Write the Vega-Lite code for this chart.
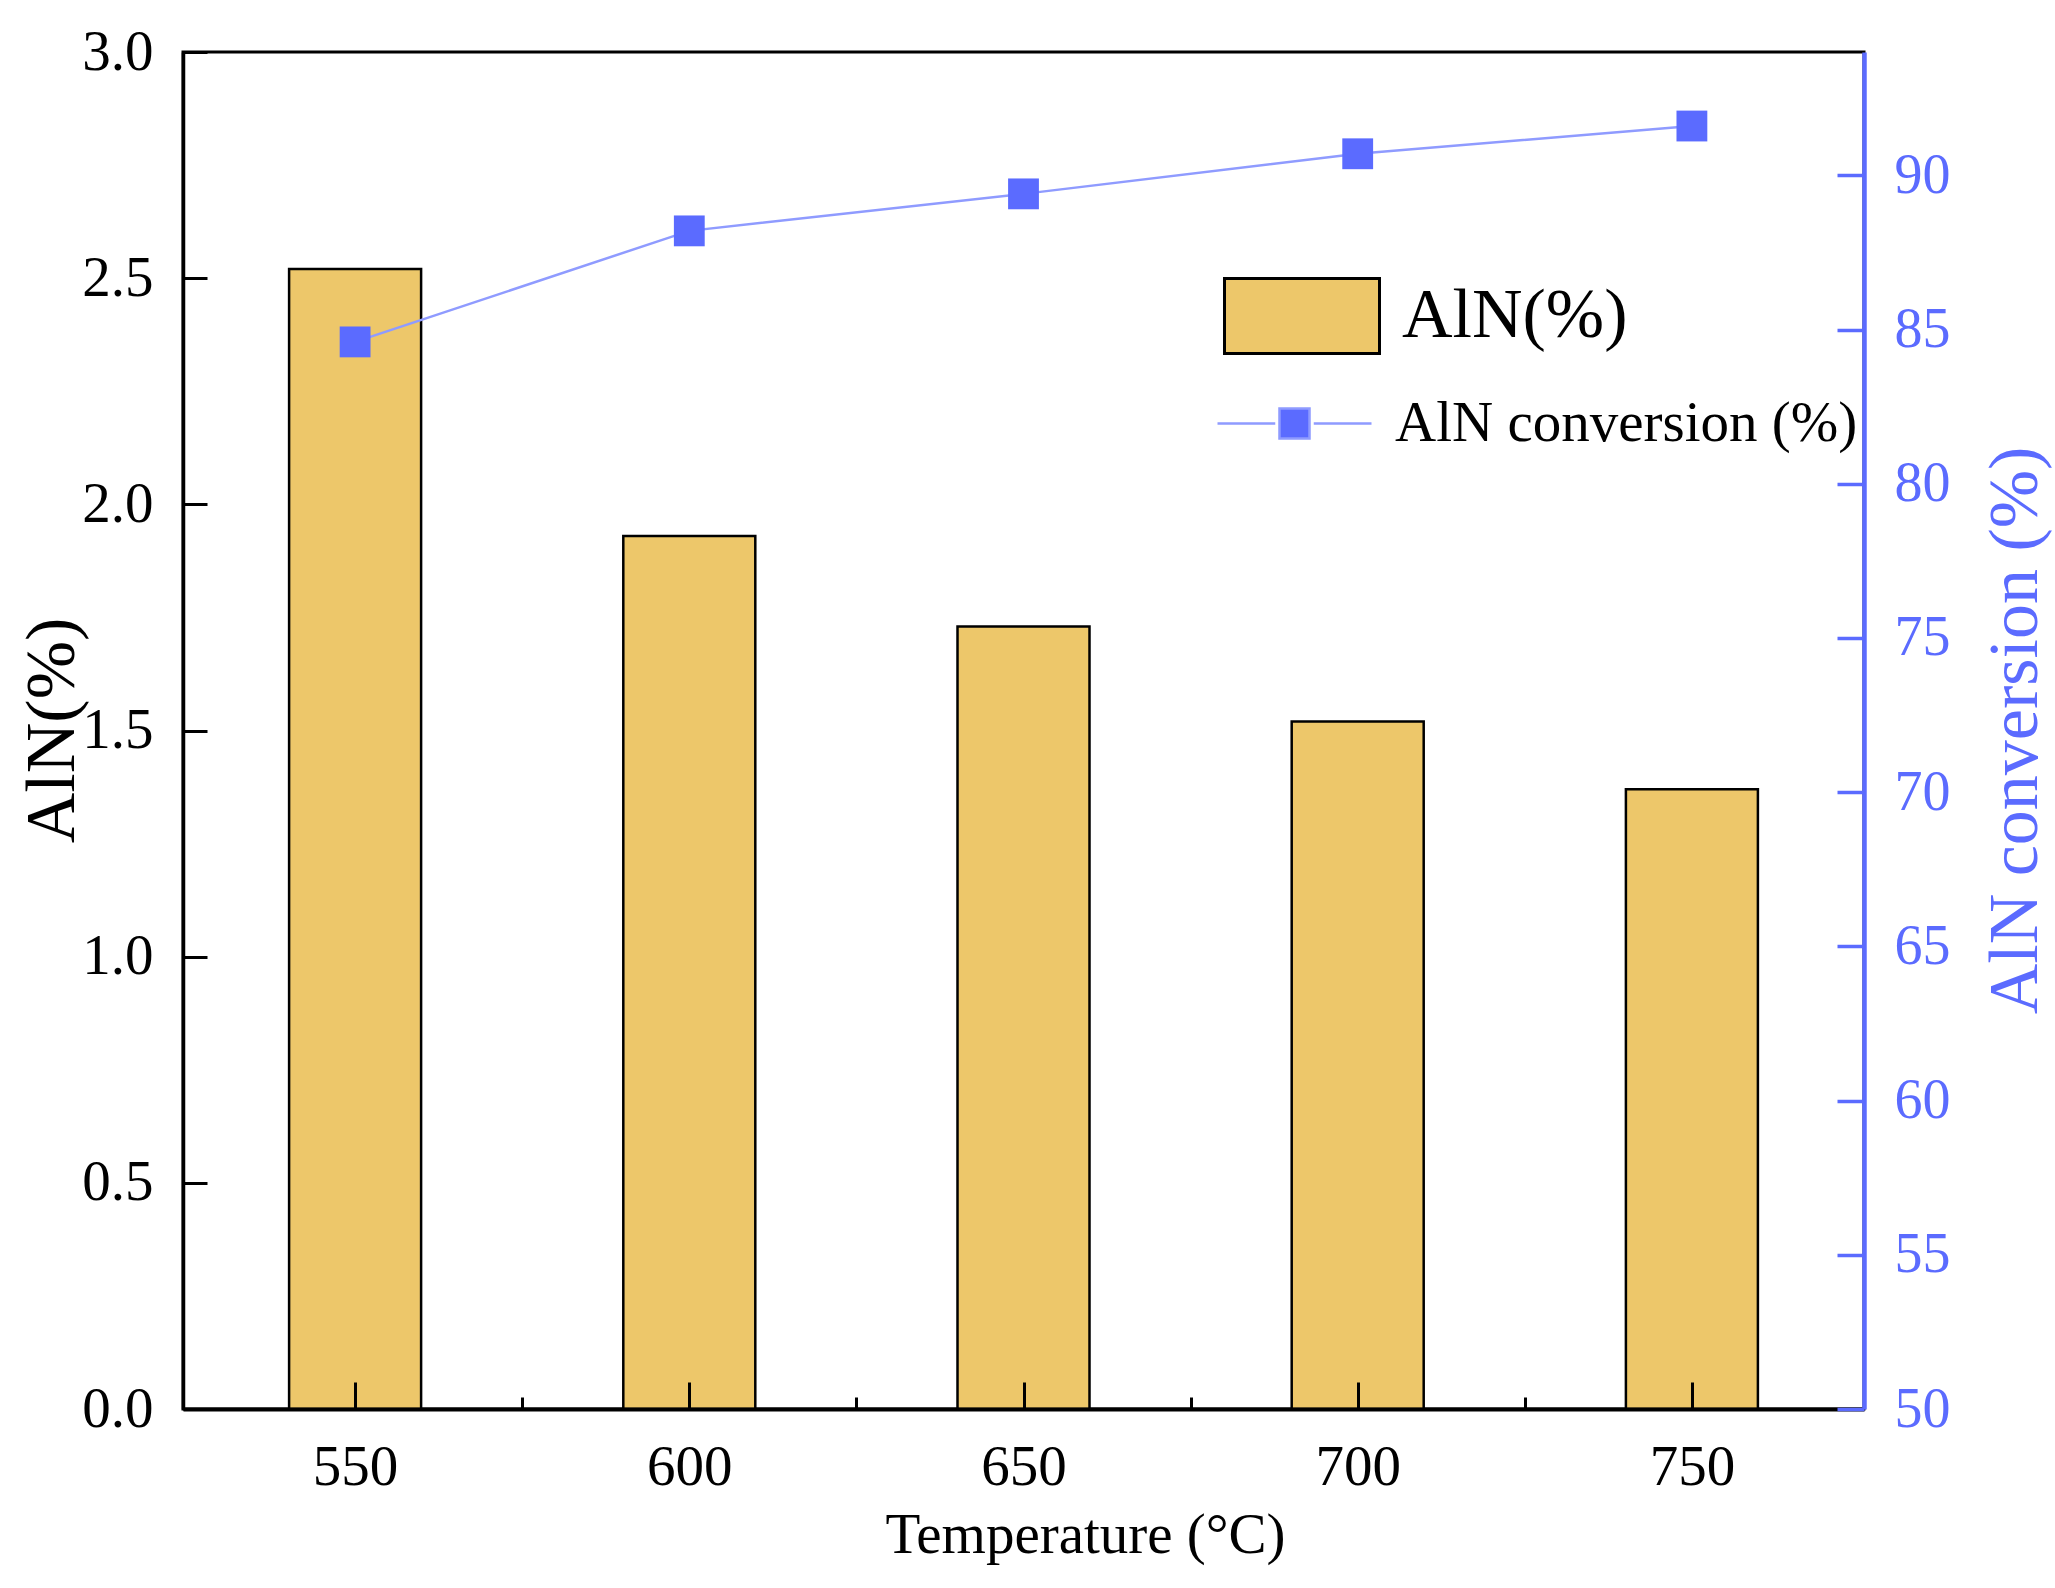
{
  "$schema": "https://vega.github.io/schema/vega-lite/v6.json",
  "width": 1681,
  "height": 1357,
  "autosize": {"type": "none"},
  "padding": {"left": 183, "top": 52, "right": 191, "bottom": 179},
  "config": {
    "font": "Liberation Serif",
    "view": {"stroke": "black", "strokeWidth": 3},
    "axis": {
      "grid": false,
      "labelFont": "Liberation Serif",
      "titleFont": "Liberation Serif",
      "labelFontSize": 57,
      "titleFontWeight": "normal",
      "tickWidth": 3,
      "domainWidth": 3.5,
      "labelFlush": false
    }
  },
  "data": {
    "values": [
      {"temperature": 550, "aln": 2.52, "conv": 84.6},
      {"temperature": 600, "aln": 1.93, "conv": 88.2},
      {"temperature": 650, "aln": 1.73, "conv": 89.4},
      {"temperature": 700, "aln": 1.52, "conv": 90.7},
      {"temperature": 750, "aln": 1.37, "conv": 91.6}
    ]
  },
  "layer": [
    {
      "layer": [
        {
          "mark": {"type": "bar", "width": 132, "stroke": "black", "strokeWidth": 2.5},
          "encoding": {
            "x": {
              "field": "temperature",
              "type": "quantitative",
              "scale": {"domain": [525, 775], "nice": false, "zero": false},
              "axis": {
                "orient": "bottom",
                "zindex": 2,
                "values": [550, 600, 650, 700, 750],
                "title": "Temperature (°C)",
                "ticks": false,
                "tickSize": 0,
                "labelPadding": 30,
                "labelColor": "black",
                "domainColor": "black",
                "domainWidth": 4,
                "titleFontSize": 57,
                "titleColor": "black",
                "titleX": 902,
                "titleY": 143,
                "titleBaseline": "alphabetic",
                "titleAlign": "center"
              }
            },
            "y": {
              "field": "aln",
              "type": "quantitative",
              "scale": {"domain": [0, 3], "nice": false},
              "axis": {
                "orient": "left",
                "zindex": 2,
                "values": [0, 0.5, 1, 1.5, 2, 2.5, 3],
                "format": ".1f",
                "title": "AlN(%)",
                "ticks": false,
                "tickSize": 0,
                "labelPadding": 30,
                "labelColor": "black",
                "domainColor": "black",
                "titleColor": "black",
                "titleFontSize": 70,
                "titleAngle": -90,
                "titleX": -110,
                "titleY": 678,
                "titleBaseline": "alphabetic",
                "titleAlign": "center"
              }
            },
            "fill": {
              "datum": "AlN(%)",
              "scale": {"range": ["#EDC76A"]},
              "legend": {
                "orient": "none",
                "legendX": 1040,
                "legendY": 185,
                "title": null,
                "padding": 0,
                "symbolType": "M-1,-0.484H1V0.484H-1Z",
                "symbolSize": 24025,
                "symbolStrokeColor": "black",
                "symbolStrokeWidth": 3,
                "labelFont": "Liberation Serif",
                "labelFontSize": 70,
                "labelColor": "black",
                "labelOffset": 21,
                "labelLimit": 0
              }
            }
          }
        },
        {
          "mark": {"type": "point", "opacity": 0},
          "encoding": {
            "x": {
              "field": "temperature",
              "type": "quantitative",
              "axis": {
                "orient": "bottom",
                "zindex": 2,
                "values": [550, 600, 650, 700, 750],
                "labels": false,
                "domain": false,
                "title": null,
                "tickSize": 27,
                "offset": -27,
                "tickColor": "black",
                "tickWidth": 3
              }
            },
            "y": {
              "field": "aln",
              "type": "quantitative",
              "axis": {
                "orient": "left",
                "zindex": 2,
                "values": [0, 0.5, 1, 1.5, 2, 2.5, 3],
                "labels": false,
                "domain": false,
                "title": null,
                "tickSize": 24,
                "offset": -24,
                "tickColor": "black",
                "tickWidth": 3
              }
            }
          }
        }
      ],
      "resolve": {"axis": {"x": "independent", "y": "independent"}}
    },
    {
      "layer": [
        {
          "mark": {"type": "line", "color": "#8f9bff", "strokeWidth": 2.5},
          "encoding": {
            "x": {
              "field": "temperature",
              "type": "quantitative",
              "axis": {
                "orient": "bottom",
                "zindex": 2,
                "values": [575, 625, 675, 725],
                "labels": false,
                "domain": false,
                "title": null,
                "tickSize": 12,
                "offset": -12,
                "tickColor": "black",
                "tickWidth": 3
              }
            },
            "y": {
              "field": "conv",
              "type": "quantitative",
              "scale": {"domain": [50, 94], "nice": false, "zero": false},
              "axis": {
                "orient": "right",
                "zindex": 2,
                "values": [50, 55, 60, 65, 70, 75, 80, 85, 90],
                "title": "AlN conversion (%)",
                "ticks": false,
                "tickSize": 0,
                "labelPadding": 30,
                "labelFontSize": 56,
                "domainColor": "#5b6bff",
                "labelColor": "#5b6bff",
                "titleColor": "#5b6bff",
                "domainWidth": 4.5,
                "titleFontSize": 70,
                "titleAngle": -90,
                "titleX": 172,
                "titleY": 678,
                "titleBaseline": "alphabetic",
                "titleAlign": "center"
              }
            },
            "stroke": {
              "datum": "AlN conversion (%)",
              "scale": {"range": ["#8f9bff"]},
              "legend": {
                "orient": "none",
                "legendX": 1033,
                "legendY": 293,
                "title": null,
                "padding": 0,
                "symbolType": "M-1,0H-0.25M0.25,0H1M-0.195,-0.195H0.195V0.195H-0.195Z",
                "symbolSize": 23716,
                "labelFont": "Liberation Serif",
                "labelFontSize": 57,
                "labelColor": "black",
                "labelOffset": 22,
                "labelLimit": 0,
                "encode": {
                  "symbols": {
                    "update": {
                      "fill": {"value": "#5b6bff"},
                      "stroke": {"value": "#8f9bff"},
                      "strokeWidth": {"value": 2.5}
                    }
                  }
                }
              }
            }
          }
        },
        {
          "mark": {"type": "square", "size": 950, "filled": true, "color": "#5b6bff", "opacity": 1},
          "encoding": {
            "x": {"field": "temperature", "type": "quantitative", "axis": null},
            "y": {
              "field": "conv",
              "type": "quantitative",
              "axis": {
                "orient": "right",
                "zindex": 2,
                "values": [50, 55, 60, 65, 70, 75, 80, 85, 90],
                "labels": false,
                "domain": false,
                "title": null,
                "tickSize": 27,
                "offset": -27,
                "tickColor": "#5b6bff",
                "tickWidth": 3.5
              }
            }
          }
        }
      ],
      "resolve": {"axis": {"x": "independent", "y": "independent"}}
    }
  ],
  "resolve": {"scale": {"y": "independent"}, "axis": {"x": "independent"}}
}
